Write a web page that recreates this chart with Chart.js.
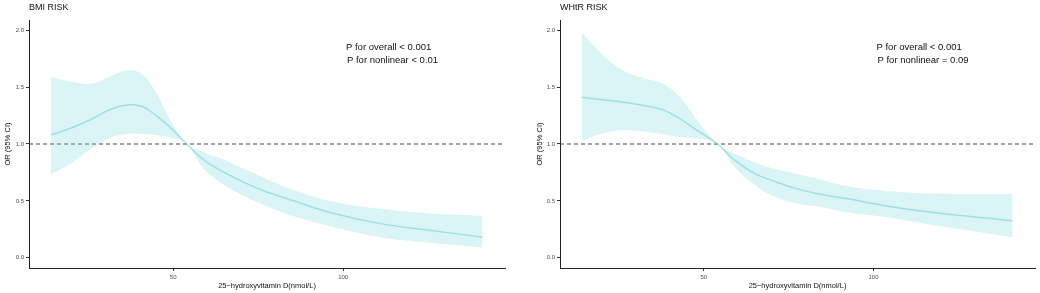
<!DOCTYPE html>
<html lang="en">
<head>
    <meta charset="UTF-8">
    <title>25-hydroxyvitamin D and obesity risk</title>
    <script src="https://cdn.jsdelivr.net/npm/chart.js"></script>
    <style>
        body {
            margin: 0;
            background: white;
            display: flex;
            font-family: "Liberation Sans", Arial, sans-serif;
        }
        .panel {
            width: 520px;
            height: 293px;
        }
    </style>
</head>
<body>
    <div class="panel"><canvas id="bmiChart" width="520" height="293"></canvas></div>
    <div class="panel"><canvas id="whtrChart" width="520" height="293"></canvas></div>

    <script>
    // BMI panel
    const bmiX     = [14, 20, 26, 32, 37, 41, 45, 49, 54, 59, 65, 71, 77, 85, 96, 111, 126, 141];
    const bmiOR    = [1.08, 1.14, 1.22, 1.31, 1.345, 1.33, 1.25, 1.15, 1.00, 0.86, 0.75, 0.66, 0.585, 0.505, 0.40, 0.30, 0.24, 0.18];
    const bmiUpper = [1.59, 1.55, 1.53, 1.60, 1.65, 1.61, 1.45, 1.22, 1.00, 0.93, 0.86, 0.78, 0.70, 0.60, 0.50, 0.43, 0.39, 0.37];
    const bmiLower = [0.73, 0.83, 0.96, 1.06, 1.09, 1.09, 1.08, 1.06, 1.00, 0.78, 0.64, 0.54, 0.46, 0.37, 0.28, 0.18, 0.13, 0.09];

    // WHtR panel
    const whtrX     = [14, 20, 26, 32, 38, 43, 48, 54, 59, 65, 71, 77, 84, 92, 103, 117, 141];
    const whtrOR    = [1.41, 1.39, 1.37, 1.34, 1.30, 1.22, 1.12, 1.00, 0.86, 0.74, 0.67, 0.61, 0.56, 0.52, 0.46, 0.40, 0.325];
    const whtrUpper = [1.98, 1.79, 1.65, 1.58, 1.53, 1.41, 1.21, 1.00, 0.915, 0.84, 0.78, 0.74, 0.69, 0.63, 0.59, 0.565, 0.56];
    const whtrLower = [1.03, 1.09, 1.12, 1.11, 1.085, 1.06, 1.05, 1.00, 0.80, 0.64, 0.535, 0.48, 0.45, 0.40, 0.36, 0.29, 0.18];

    const xTicks = [50, 100];
    const yTicks = [0, 0.5, 1.0, 1.5, 2.0];
    const refOR = 1;
    const xRange = [7.6, 147.6];
    const yRange = [-0.09, 2.09];

    const bandFill = 'rgba(110, 210, 215, 0.25)';
    const lineColor = 'rgba(110, 205, 212, 0.55)';

    function pts(xs, ys) {
        return xs.map((x, i) => ({ x: x, y: ys[i] }));
    }

    // title + p-value text drawn on the canvas
    const textPlugin = {
        id: 'panelText',
        afterDraw(chart, args, opts) {
            const ctx = chart.ctx;
            ctx.save();
            ctx.fillStyle = '#111';
            ctx.textBaseline = 'middle';
            ctx.textAlign = 'left';
            ctx.font = '9px "Liberation Sans", Arial, sans-serif';
            ctx.fillText(opts.title, chart.chartArea.left, 8);
            ctx.font = '9.5px "Liberation Sans", Arial, sans-serif';
            ctx.fillText(opts.line1, opts.textX, 47);
            ctx.fillText(opts.line2, opts.textX + 1, 60);
            ctx.restore();
        }
    };

    function makeChart(id, xs, or, upper, lower, cfg) {
        const ctx = document.getElementById(id).getContext('2d');
        return new Chart(ctx, {
            type: 'line',
            data: {
                datasets: [
                    {
                        label: 'upper',
                        data: pts(xs, upper),
                        borderWidth: 0,
                        pointRadius: 0,
                        backgroundColor: bandFill,
                        fill: '+1',
                        tension: 0.4
                    },
                    {
                        label: 'lower',
                        data: pts(xs, lower),
                        borderWidth: 0,
                        pointRadius: 0,
                        fill: false,
                        tension: 0.4
                    },
                    {
                        label: 'OR',
                        data: pts(xs, or),
                        borderColor: lineColor,
                        borderWidth: 1.5,
                        pointRadius: 0,
                        fill: false,
                        tension: 0.4
                    },
                    {
                        label: 'ref',
                        data: [{ x: xRange[0], y: refOR }, { x: xRange[1], y: refOR }],
                        borderColor: '#444',
                        borderWidth: 1,
                        borderDash: [4, 3],
                        pointRadius: 0,
                        fill: false
                    }
                ]
            },
            options: {
                responsive: false,
                animation: false,
                layout: {
                    padding: { left: 0, right: cfg.padRight, top: 20, bottom: 0 }
                },
                plugins: {
                    legend: { display: false },
                    tooltip: { enabled: false },
                    panelText: {
                        title: cfg.title,
                        line1: cfg.line1,
                        line2: cfg.line2,
                        textX: cfg.textX
                    }
                },
                scales: {
                    x: {
                        type: 'linear',
                        min: xRange[0],
                        max: xRange[1],
                        afterBuildTicks: axis => { axis.ticks = xTicks.map(v => ({ value: v })); },
                        afterFit: axis => { axis.height = 25; },
                        ticks: {
                            color: '#4d4d4d',
                            padding: 2.4,
                            font: { size: 6, family: '"Liberation Sans", Arial, sans-serif' },
                            callback: v => String(v)
                        },
                        grid: {
                            drawOnChartArea: false,
                            drawTicks: true,
                            tickLength: 3,
                            tickColor: '#333'
                        },
                        border: { display: true, color: '#222', width: 1 },
                        title: {
                            display: true,
                            text: '25\u2212hydroxyvitamin D(nmol/L)',
                            color: '#111',
                            padding: { top: 0, bottom: 2.5 },
                            font: { size: 7.5, family: '"Liberation Sans", Arial, sans-serif' }
                        }
                    },
                    y: {
                        min: yRange[0],
                        max: yRange[1],
                        afterBuildTicks: axis => { axis.ticks = yTicks.map(v => ({ value: v })); },
                        afterFit: axis => { axis.width = cfg.yWidth; },
                        ticks: {
                            color: '#4d4d4d',
                            padding: 2,
                            font: { size: 6, family: '"Liberation Sans", Arial, sans-serif' },
                            callback: v => v.toFixed(1)
                        },
                        grid: {
                            drawOnChartArea: false,
                            drawTicks: true,
                            tickLength: 3,
                            tickColor: '#333'
                        },
                        border: { display: true, color: '#222', width: 1 },
                        title: {
                            display: true,
                            text: 'OR (95% CI)',
                            color: '#111',
                            padding: { top: cfg.yTitlePad, bottom: 0 },
                            font: { size: 7.5, family: '"Liberation Sans", Arial, sans-serif' }
                        }
                    }
                }
            },
            plugins: [textPlugin]
        });
    }

    makeChart('bmiChart', bmiX, bmiOR, bmiUpper, bmiLower, {
        title: 'BMI RISK',
        line1: 'P for overall < 0.001',
        line2: 'P for nonlinear < 0.01',
        textX: 346,
        yWidth: 29,
        yTitlePad: 3.5,
        padRight: 15
    });

    makeChart('whtrChart', whtrX, whtrOR, whtrUpper, whtrLower, {
        title: 'WHtR RISK',
        line1: 'P for overall < 0.001',
        line2: 'P for nonlinear = 0.09',
        textX: 356.5,
        yWidth: 40,
        yTitlePad: 15.5,
        padRight: 5
    });
    </script>
</body>
</html>
